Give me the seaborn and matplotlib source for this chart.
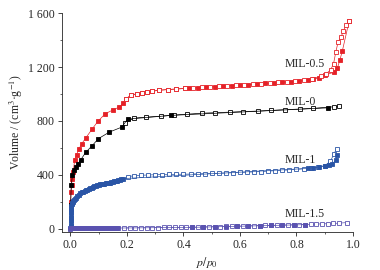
import pandas as pd
import matplotlib
matplotlib.use("Agg")
import matplotlib.pyplot as plt
import seaborn as sns
from matplotlib.ticker import MultipleLocator, FuncFormatter

# MIL-0.5 (red)
mil05_ads_p = [0.001, 0.002, 0.004, 0.006, 0.01, 0.015, 0.022, 0.03, 0.04, 0.054, 0.076, 0.097,
               0.123, 0.152, 0.173, 0.187, 0.196, 0.214, 0.234, 0.253, 0.27, 0.29, 0.315, 0.345,
               0.375, 0.405, 0.42, 0.45, 0.48, 0.51, 0.54, 0.57, 0.60, 0.63, 0.66,
               0.69, 0.72, 0.75, 0.78, 0.81, 0.84, 0.86, 0.881, 0.90, 0.933, 0.945, 0.953, 0.962, 0.986]
mil05_ads_v = [200, 270, 320, 370, 420, 510, 550, 590, 630, 672, 737, 796,
               853, 883, 903, 932, 965, 989, 1002, 1009, 1015, 1021, 1028, 1033,
               1037, 1041, 1042, 1046, 1050, 1054, 1058, 1062, 1066, 1070, 1074,
               1078, 1082, 1086, 1090, 1095, 1101, 1108, 1121, 1140, 1162, 1195, 1249, 1318, 1540]
mil05_des_p = [0.986, 0.974, 0.966, 0.957, 0.947, 0.939, 0.931, 0.921, 0.905, 0.885, 0.855, 0.825,
               0.795, 0.765, 0.735, 0.705, 0.675, 0.645, 0.615, 0.585, 0.555, 0.525, 0.495, 0.465,
               0.435, 0.405, 0.375, 0.345, 0.315, 0.29, 0.27, 0.253, 0.234, 0.214, 0.196]
mil05_des_v = [1545, 1509, 1466, 1422, 1385, 1311, 1224, 1180, 1150, 1130, 1113, 1104,
               1097, 1091, 1086, 1081, 1077, 1073, 1069, 1065, 1061, 1057, 1053, 1049,
               1045, 1041, 1037, 1033, 1028, 1021, 1015, 1009, 1002, 989, 965]

# MIL-0 (black)
mil0_ads_p = [0.0005, 0.003, 0.007, 0.012, 0.019, 0.027, 0.037, 0.054, 0.077, 0.099, 0.138, 0.182,
              0.202, 0.357, 0.91]
mil0_ads_v = [173, 321, 396, 433, 455, 482, 512, 566, 616, 668, 717, 754,
              813, 841, 897]
mil0_des_p = [0.951, 0.933, 0.857, 0.811, 0.758, 0.711, 0.664, 0.612, 0.565, 0.512, 0.465, 0.413,
              0.367, 0.319, 0.269, 0.226, 0.194]
mil0_des_v = [910, 905, 893, 888, 883, 878, 873, 869, 865, 861, 857, 850,
              843, 835, 828, 821, 787]

# MIL-1 (blue)
mil1_ads_p = [0.0002, 0.0003, 0.0004, 0.0005, 0.0006, 0.0008, 0.001, 0.0013, 0.0016, 0.002, 0.003,
              0.004, 0.006, 0.008, 0.01, 0.013, 0.016, 0.02, 0.025, 0.03, 0.035, 0.04, 0.045, 0.05,
              0.055, 0.06, 0.065, 0.07, 0.075, 0.08, 0.085, 0.09, 0.095, 0.1, 0.105, 0.11, 0.115,
              0.12, 0.125, 0.13, 0.135, 0.14, 0.145, 0.15, 0.155, 0.16, 0.165, 0.17, 0.175, 0.18,
              0.185, 0.84, 0.86, 0.88, 0.90, 0.915, 0.927, 0.939, 0.945]
mil1_ads_v = [5, 20, 40, 60, 80, 100, 120, 135, 145, 155, 170,
              180, 190, 198, 205, 213, 220, 230, 242, 253, 261, 268, 274, 280,
              285, 290, 295, 300, 305, 311, 314, 318, 322, 325, 328, 330, 332,
              334, 336, 338, 340, 342, 345, 348, 351, 354, 357, 360, 364, 368,
              371, 447, 452, 458, 465, 472, 482, 507, 544]
mil1_des_p = [0.942, 0.933, 0.92, 0.90, 0.875, 0.85, 0.825, 0.80, 0.775, 0.75, 0.725, 0.70,
              0.675, 0.65, 0.625, 0.60, 0.575, 0.55, 0.525, 0.50, 0.475, 0.45, 0.425, 0.40,
              0.375, 0.35, 0.325, 0.30, 0.275, 0.25, 0.225, 0.202]
mil1_des_v = [594, 556, 500, 468, 456, 449, 444, 440, 436, 433, 430, 427,
              424, 421, 419, 417, 415, 413, 411, 410, 408, 407, 405, 404,
              403, 402, 401, 400, 398, 396, 392, 386]

# MIL-1.5 (purple)
mil15_ads_p = [0.0002, 0.0005, 0.001, 0.002, 0.004, 0.007, 0.01, 0.015, 0.02, 0.025, 0.03, 0.035,
               0.04, 0.045, 0.05, 0.055, 0.06, 0.065, 0.07, 0.075, 0.08, 0.085, 0.09, 0.095, 0.1,
               0.105, 0.11, 0.115, 0.12, 0.125, 0.13, 0.135, 0.14, 0.145, 0.15, 0.155, 0.16, 0.165,
               0.17, 0.43, 0.47, 0.51, 0.55, 0.59, 0.63, 0.67, 0.71, 0.75, 0.79, 0.83]
mil15_ads_v = [0, 1, 2, 2, 3, 3, 3, 3, 3, 3, 3, 3,
               3, 3, 3, 3, 3, 3, 3, 3, 3, 3, 3, 3, 3,
               3, 3, 3, 4, 4, 4, 4, 4, 4, 4, 4, 4, 4,
               4, 9, 11, 13, 15, 17, 19, 21, 23, 25, 27, 29]
mil15_des_p = [0.98, 0.95, 0.93, 0.91, 0.89, 0.87, 0.85, 0.83, 0.81, 0.79, 0.77, 0.75, 0.73,
               0.71, 0.69, 0.67, 0.65, 0.63, 0.61, 0.59, 0.57, 0.55, 0.53, 0.51, 0.49, 0.47,
               0.45, 0.43, 0.41, 0.39, 0.37, 0.35, 0.33, 0.31, 0.29, 0.27, 0.25, 0.23, 0.21, 0.19]
mil15_des_v = [45, 40, 38, 36, 35, 33, 32, 30, 29, 28, 27, 26, 25,
               24, 23, 22, 21, 20, 19, 18, 17, 16, 15, 14, 13, 12,
               11, 10, 10, 9, 9, 8, 8, 7, 7, 6, 6, 6, 5, 5]

series_labels = ["MIL-0.5", "MIL-0", "MIL-1", "MIL-1.5"]
label_y = [1225, 944, 512, 106]
colors = ["#e52127", "#000000", "#2a55a6", "#5a52b0"]


def draw_branch(ax, p, v, color, filled):
    df = pd.DataFrame({"p": p, "v": v})
    sns.lineplot(data=df, x="p", y="v", ax=ax, sort=False, estimator=None,
                 color=color, linewidth=0.5, marker="s", markersize=3.5,
                 markeredgewidth=0.6, markeredgecolor=color,
                 markerfacecolor=color if filled else "white")


def main():
    sns.set_style("ticks")
    plt.rcParams["font.family"] = ["Liberation Serif", "DejaVu Serif"]
    plt.rcParams["mathtext.fontset"] = "stix"

    fig = plt.figure(figsize=(3.8, 2.7), dpi=100)
    ax = fig.add_axes([0.163, 0.141, 0.766, 0.81])

    # red: adsorption first so the open desorption squares sit on top
    draw_branch(ax, mil05_ads_p, mil05_ads_v, colors[0], filled=True)
    draw_branch(ax, mil05_des_p, mil05_des_v, colors[0], filled=False)

    others = [
        (mil0_des_p, mil0_des_v, mil0_ads_p, mil0_ads_v),
        (mil1_des_p, mil1_des_v, mil1_ads_p, mil1_ads_v),
        (mil15_des_p, mil15_des_v, mil15_ads_p, mil15_ads_v),
    ]
    for (dp, dv, ap, av), color in zip(others, colors[1:]):
        draw_branch(ax, dp, dv, color, filled=False)
        draw_branch(ax, ap, av, color, filled=True)

    for name, y in zip(series_labels, label_y):
        ax.text(0.757, y, name, fontsize=8.5, va="center", ha="left")

    ax.set_xlim(-0.03, 1.0)
    ax.set_ylim(-25, 1600)
    ax.xaxis.set_major_locator(MultipleLocator(0.2))
    ax.xaxis.set_minor_locator(MultipleLocator(0.1))
    ax.yaxis.set_major_locator(MultipleLocator(400))
    ax.yaxis.set_minor_locator(MultipleLocator(200))
    ax.xaxis.set_major_formatter(FuncFormatter(lambda x, pos: f"{x:.1f}"))
    ax.yaxis.set_major_formatter(FuncFormatter(lambda y, pos: f"{int(y):,}".replace(",", " ")))
    ax.tick_params(which="major", direction="out", length=3, width=0.6, labelsize=8.5, pad=2)
    ax.tick_params(which="minor", direction="out", length=1.6, width=0.5)
    sns.despine(ax=ax)
    for s in ["left", "bottom"]:
        ax.spines[s].set_linewidth(0.6)

    ax.set_xlabel("$p/p_0$", fontsize=8.5, labelpad=3)
    ax.set_ylabel("Volume / (cm$^3$·g$^{-1}$)", fontsize=8.5, labelpad=2)

    fig.savefig("out.png", dpi=100)


if __name__ == "__main__":
    main()
